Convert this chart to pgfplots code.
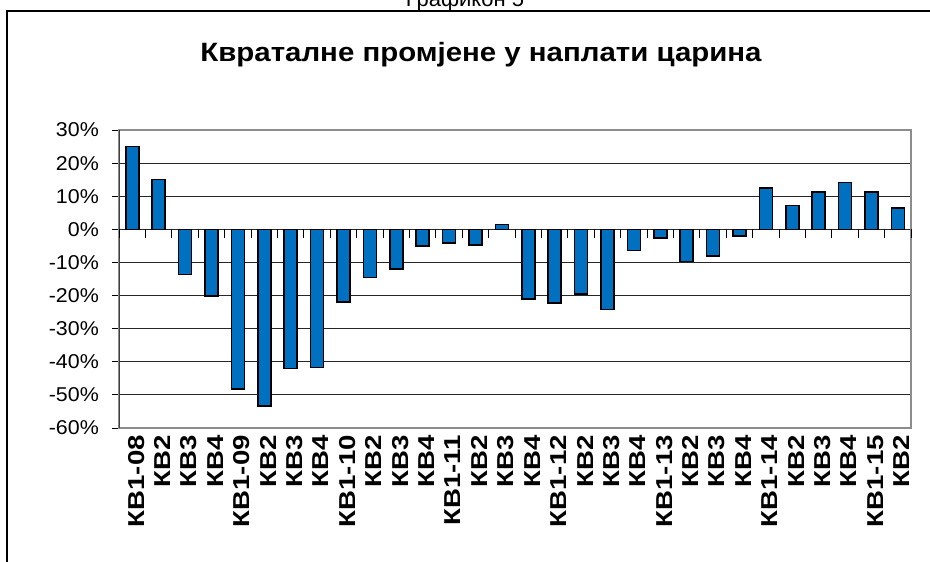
\documentclass[border=0pt]{standalone}
\usepackage{pgfplots}
\pgfplotsset{compat=1.18}
\usepackage{pgfplotstable}
\usepackage{fontspec}
\setmainfont{Liberation Sans}
\newfontfamily\titlefont[FakeStretch=1.11]{Liberation Sans}
\newfontfamily\tickfont[FakeStretch=1.07]{Liberation Sans}
\newfontfamily\labfont[FakeStretch=1.2]{Liberation Sans}
\definecolor{barblue}{RGB}{0,112,192}
\definecolor{framegray}{RGB}{140,140,140}

\begin{document}
\pgfplotstableread{
idx val
0 25
1 15
2 -13.6
3 -20.2
4 -48.3
5 -53.4
6 -42
7 -41.7
8 -22
9 -14.5
10 -12
11 -5
12 -4.2
13 -4.7
14 1.5
15 -21
16 -22.3
17 -19.5
18 -24.2
19 -6.4
20 -2.7
21 -9.7
22 -8
23 -2
24 12.5
25 7.2
26 11.2
27 14.2
28 11.2
29 6.4
}\customs
\begin{tikzpicture}[x=1pt,y=1pt]
\useasboundingbox (0,0) rectangle (930,-562);
\begin{scope}
\clip (0,0) rectangle (930,-562);
% outer chart frame, cut off at right and bottom like the reference
\draw[black, line width=1.4pt] (7,-11) rectangle (960,-600);
\node[anchor=base, font=\fontsize{22}{26}\selectfont] at (465,-6) {Графикон 5};
\end{scope}
\node[anchor=base, font=\titlefont\bfseries\fontsize{26.5}{30}\selectfont] at (481,-61)
  {Квраталне промјене у наплати царина};

\begin{axis}[at={(119pt,-428pt)}, anchor=south west, scale only axis,
  width=792pt, height=298pt,
  xmin=-0.5, xmax=29.5, ymin=-60, ymax=30,
  axis line style={draw=none},
  ytick={-60,-50,...,30}, ytick pos=left, tick align=outside,
  major tick length=7pt, ytick style={black, line width=0.8pt},
  yticklabel={\pgfmathprintnumber{\tick}\%},
  /pgf/number format/assume math mode=true,
  yticklabel style={font=\tickfont\fontsize{20}{24}\selectfont, inner sep=0pt, xshift=-13pt},
  ymajorgrids, major grid style={black!85, line width=0.9pt},
  xtick=data, x tick style={draw=none},
  xticklabels={КВ1-08,КВ2,КВ3,КВ4,КВ1-09,КВ2,КВ3,КВ4,КВ1-10,КВ2,КВ3,КВ4,
    КВ1-11,КВ2,КВ3,КВ4,КВ1-12,КВ2,КВ3,КВ4,КВ1-13,КВ2,КВ3,КВ4,
    КВ1-14,КВ2,КВ3,КВ4,КВ1-15,КВ2},
  xticklabel style={font=\labfont\bfseries\fontsize{23}{26}\selectfont, rotate=90,
    anchor=east, inner sep=0pt, yshift=-4pt},
  clip=false]
\addplot[ybar, bar width=13pt, fill=barblue, draw=black, line width=1.6pt]
  table[x=idx, y=val] {\customs};
\draw[framegray, line width=1.6pt] (rel axis cs:0,0) rectangle (rel axis cs:1,1);
\draw[black!75, line width=1pt] (rel axis cs:0,0) -- (rel axis cs:0,1);
\pgfplotsinvokeforeach{0,...,30}{
  \draw[black, line width=0.8pt] (axis cs:#1-0.5,0) -- ([yshift=-9pt]axis cs:#1-0.5,0);
}
\end{axis}
\end{tikzpicture}
\end{document}
